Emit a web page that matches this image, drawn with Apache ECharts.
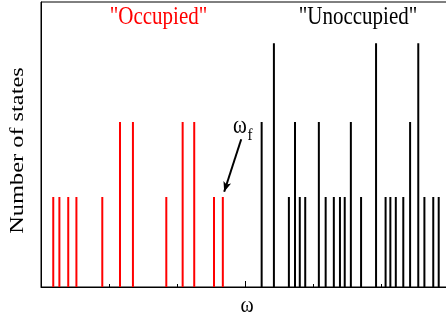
<!DOCTYPE html>
<html>
<head>
<meta charset="utf-8">
<script src="https://cdn.jsdelivr.net/npm/echarts@6/dist/echarts.min.js"></script>
<style>
  html, body { margin: 0; padding: 0; background: #fff; }
  #chart { width: 446px; height: 323px; }
</style>
</head>
<body>
<div id="chart"></div>
<script>
// state energies (omega, arbitrary units) and degeneracies
var occupiedX = [0.18, 0.27, 0.40, 0.52, 0.90, 1.16, 1.35, 1.84, 2.08, 2.25, 2.54, 2.67];
var occupiedY = [1.2, 1.2, 1.2, 1.2, 1.2, 2.2, 2.2, 1.2, 2.2, 2.2, 1.2, 1.2];
var unoccupiedX = [3.24, 3.42, 3.64, 3.73, 3.80, 3.88, 4.08, 4.18, 4.30, 4.39, 4.46, 4.55,
  4.70, 4.92, 5.06, 5.13, 5.21, 5.32, 5.42, 5.54, 5.63, 5.76, 5.84];
var unoccupiedY = [2.2, 3.25, 1.2, 2.2, 1.2, 1.2, 2.2, 1.2, 1.2, 1.2, 1.2, 2.2,
  1.2, 3.25, 1.2, 1.2, 1.2, 1.2, 2.2, 3.25, 1.2, 1.2, 1.2];
// arrow pointing at the Fermi level
var arrowFrom = [2.94, 1.97];
var arrowTo = [2.69, 1.27];

function pairs(xs, ys) {
  return xs.map(function (x, i) { return [x, ys[i]]; });
}

var serif = "Liberation Serif";
// the original figure is a bit stretched vertically, so the texts are too
function label(text, x, y, size, color, sx, sy, rot) {
  return {
    type: "text",
    x: x, y: y,
    scaleX: sx, scaleY: sy,
    rotation: rot || 0,
    style: {
      x: 0, y: 0,
      text: text, fill: color,
      font: size + "px " + serif, align: "center", verticalAlign: "middle"
    }
  };
}

var myChart = echarts.init(document.getElementById("chart"));
myChart.setOption({
  animation: false,
  grid: {
    left: 41,
    top: 2,
    width: 408.6,
    height: 285,
    outerBoundsMode: "none",
    containLabel: false,
    show: true,
    borderColor: "#000",
    borderWidth: 1
  },
  xAxis: {
    type: "value",
    min: 0,
    max: 6,
    interval: 3,
    axisLine: { onZero: false, lineStyle: { color: "#000", width: 1 } },
    axisTick: { inside: true, length: 6, lineStyle: { color: "#000" } },
    minorTick: { show: true, splitNumber: 3, length: 3, lineStyle: { color: "#000" } },
    axisLabel: { show: false },
    splitLine: { show: false }
  },
  yAxis: {
    type: "value",
    min: 0,
    max: 3.8,
    axisLine: { show: true, lineStyle: { color: "#000", width: 1 } },
    axisTick: { show: false },
    axisLabel: { show: false },
    splitLine: { show: false }
  },
  series: [
    {
      name: "Occupied",
      type: "bar",
      barWidth: 2,
      itemStyle: { color: "#ff0000" },
      data: pairs(occupiedX, occupiedY),
      markLine: {
        silent: true,
        symbol: ["none", "arrow"],
        symbolSize: [6, 10],
        label: { show: false },
        lineStyle: { color: "#000", width: 2, type: "solid" },
        data: [[{ coord: arrowFrom }, { coord: arrowTo }]]
      }
    },
    {
      name: "Unoccupied",
      type: "bar",
      barWidth: 2,
      barGap: "-100%",
      itemStyle: { color: "#000" },
      data: pairs(unoccupiedX, unoccupiedY)
    }
  ],
  graphic: [
    label("\"Occupied\"", 158.5, 18, 21, "#ff0000", 1, 1.17),
    label("\"Unoccupied\"", 358, 18, 21, "#000", 1, 1.17),
    label("ω", 240, 127, 21, "#000", 1, 1.17),
    label("f", 250, 135, 15, "#000", 1, 1.17),
    label("ω", 247, 306, 20, "#000", 1, 1.17),
    label("Number of states", 17.5, 150.5, 19.5, "#000", 1.25, 1, Math.PI / 2)
  ]
});
</script>
</body>
</html>
